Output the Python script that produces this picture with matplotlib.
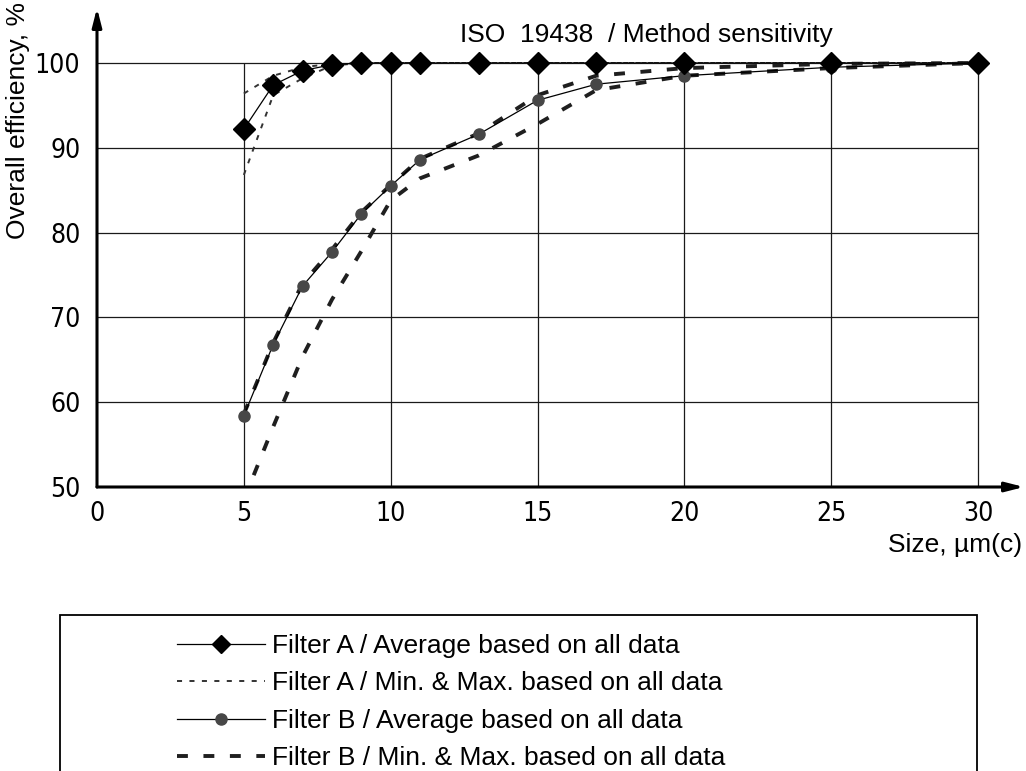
import matplotlib

matplotlib.use("Agg")
import matplotlib.pyplot as plt
from matplotlib.lines import Line2D
from matplotlib.patches import Rectangle

# --- data -----------------------------------------------------------------
size_um = [5, 6, 7, 8, 9, 10, 11, 13, 15, 17, 20, 25, 30]

filter_a_avg = [92.2, 97.4, 99.1, 99.8, 100, 100, 100, 100, 100, 100, 100, 100, 100]
filter_a_max = [96.4, 98.5, 99.5, 99.9, 100, 100, 100, 100, 100, 100, 100, 100, 100]
filter_a_min = [86.8, 96.2, 98.2, 99.7, 100, 100, 100, 100, 100, 100, 100, 100, 100]

filter_b_avg = [58.4, 66.8, 73.7, 77.7, 82.2, 85.5, 88.6, 91.6, 95.6, 97.5, 98.5, 99.5, 100]
filter_b_max = [58.6, 67.0, 74.0, 78.0, 82.4, 85.6, 88.7, 91.7, 96.2, 98.5, 99.4, 99.9, 100]
filter_b_min = [48.5, 57.1, 65.4, 72.1, 77.8, 83.8, 86.4, 89.1, 92.8, 96.8, 98.5, 99.4, 100]

x_ticks = [0, 5, 10, 15, 20, 25, 30]
y_ticks = [50, 60, 70, 80, 90, 100]

TITLE = "ISO  19438  / Method sensitivity"
LABELS = [
    "Filter A / Average based on all data",
    "Filter A / Min. & Max. based on all data",
    "Filter B / Average based on all data",
    "Filter B / Min. & Max. based on all data",
]

TEXT_FONT = "Liberation Sans"
TEXT_SIZE = 19

W, H = 1026, 771
fig = plt.figure(figsize=(W / 100, H / 100), dpi=100)

# axes box: x=0 at px 97, x=30 at px 978; y=50 at px 487, y=100 at px 63
x0_px, x30_px, xend_px = 97, 978, 1024
y50_px, y100_px, ytop_px = 487, 63, 8
xmax = 30 * (xend_px - x0_px) / (x30_px - x0_px)
ymax = 50 + 50 * (y50_px - ytop_px) / (y50_px - y100_px)
ax = fig.add_axes([x0_px / W, 1 - y50_px / H,
                   (xend_px - x0_px) / W, (y50_px - ytop_px) / H])
ax.set_xlim(0, xmax)
ax.set_ylim(50, ymax)
for s in ax.spines.values():
    s.set_visible(False)

# grid only inside the 0..30 / 50..100 frame
ax.hlines(y_ticks[1:], 0, 30, color="0.1", lw=0.9, zorder=1)
ax.vlines(x_ticks[1:], 50, 100, color="0.1", lw=0.9, zorder=1)

# axis lines with arrow heads
arrow = dict(arrowstyle="-|>,head_length=1.1,head_width=0.28", lw=2.2,
             color="k", shrinkA=0, shrinkB=0)
ax.annotate("", xy=(1, 0), xytext=(0, 0), xycoords="axes fraction",
            arrowprops=arrow, zorder=6)
ax.annotate("", xy=(0, 1), xytext=(0, 0), xycoords="axes fraction",
            arrowprops=arrow, zorder=6)

# Filter B band and average
B_BAND = dict(color="0.12", lw=2.8, dashes=(2.8, 4.0))
A_BAND = dict(color="0.2", lw=1.4, dashes=(2.6, 3.8))
ax.plot(size_um, filter_b_min, zorder=3, **B_BAND)
ax.plot(size_um, filter_b_max, zorder=3, **B_BAND)
ax.plot(size_um, filter_b_avg, color="k", lw=0.9, marker="o", markersize=8,
        markerfacecolor="0.28", markeredgecolor="0.28", zorder=4)

# Filter A band and average
ax.plot(size_um, filter_a_min, zorder=3, **A_BAND)
ax.plot(size_um, filter_a_max, zorder=3, **A_BAND)
ax.plot(size_um, filter_a_avg, color="k", lw=0.9, marker="D", markersize=11,
        markerfacecolor="k", markeredgecolor="k", zorder=5)

ax.set_xticks(x_ticks)
ax.set_yticks(y_ticks)
ax.tick_params(length=0, labelsize=19, colors="k")
ax.tick_params(axis="x", pad=10)
ax.tick_params(axis="y", pad=12)
for lab in ax.get_xticklabels() + ax.get_yticklabels():
    lab.set_family("DejaVu Sans")
    lab.set_stretch("condensed")

fig.text(460 / W, 1 - 35 / H, TITLE, family=TEXT_FONT, fontsize=TEXT_SIZE,
         ha="left", va="center")
fig.text(18 / W, 1 - 2 / H, "Overall efficiency, %", family=TEXT_FONT,
         fontsize=TEXT_SIZE, rotation=90, ha="center", va="top")
fig.text(1022 / W, 1 - 545 / H, "Size, µm(c)", family=TEXT_FONT,
         fontsize=TEXT_SIZE, ha="right", va="center")

# legend box, open at the bottom edge of the figure
fig.patches.append(Rectangle((60 / W, -0.05), (977 - 60) / W,
                             (H - 615) / H + 0.05, transform=fig.transFigure,
                             fill=False, lw=1.3, edgecolor="k"))

handles = [
    Line2D([], [], color="k", lw=0.9, marker="D", markersize=9,
           markerfacecolor="k"),
    Line2D([], [], **A_BAND),
    Line2D([], [], color="k", lw=0.9, marker="o", markersize=8,
           markerfacecolor="0.28", markeredgecolor="0.28"),
    Line2D([], [], **B_BAND),
]
fig.legend(handles, LABELS, loc="upper left",
           bbox_to_anchor=(177 / W, 1 - 634 / H), frameon=False,
           prop={"family": TEXT_FONT, "size": TEXT_SIZE}, handlelength=3.33,
           handletextpad=0.27, labelspacing=0.51, borderaxespad=0,
           borderpad=0)

fig.savefig("out.png", dpi=100)
